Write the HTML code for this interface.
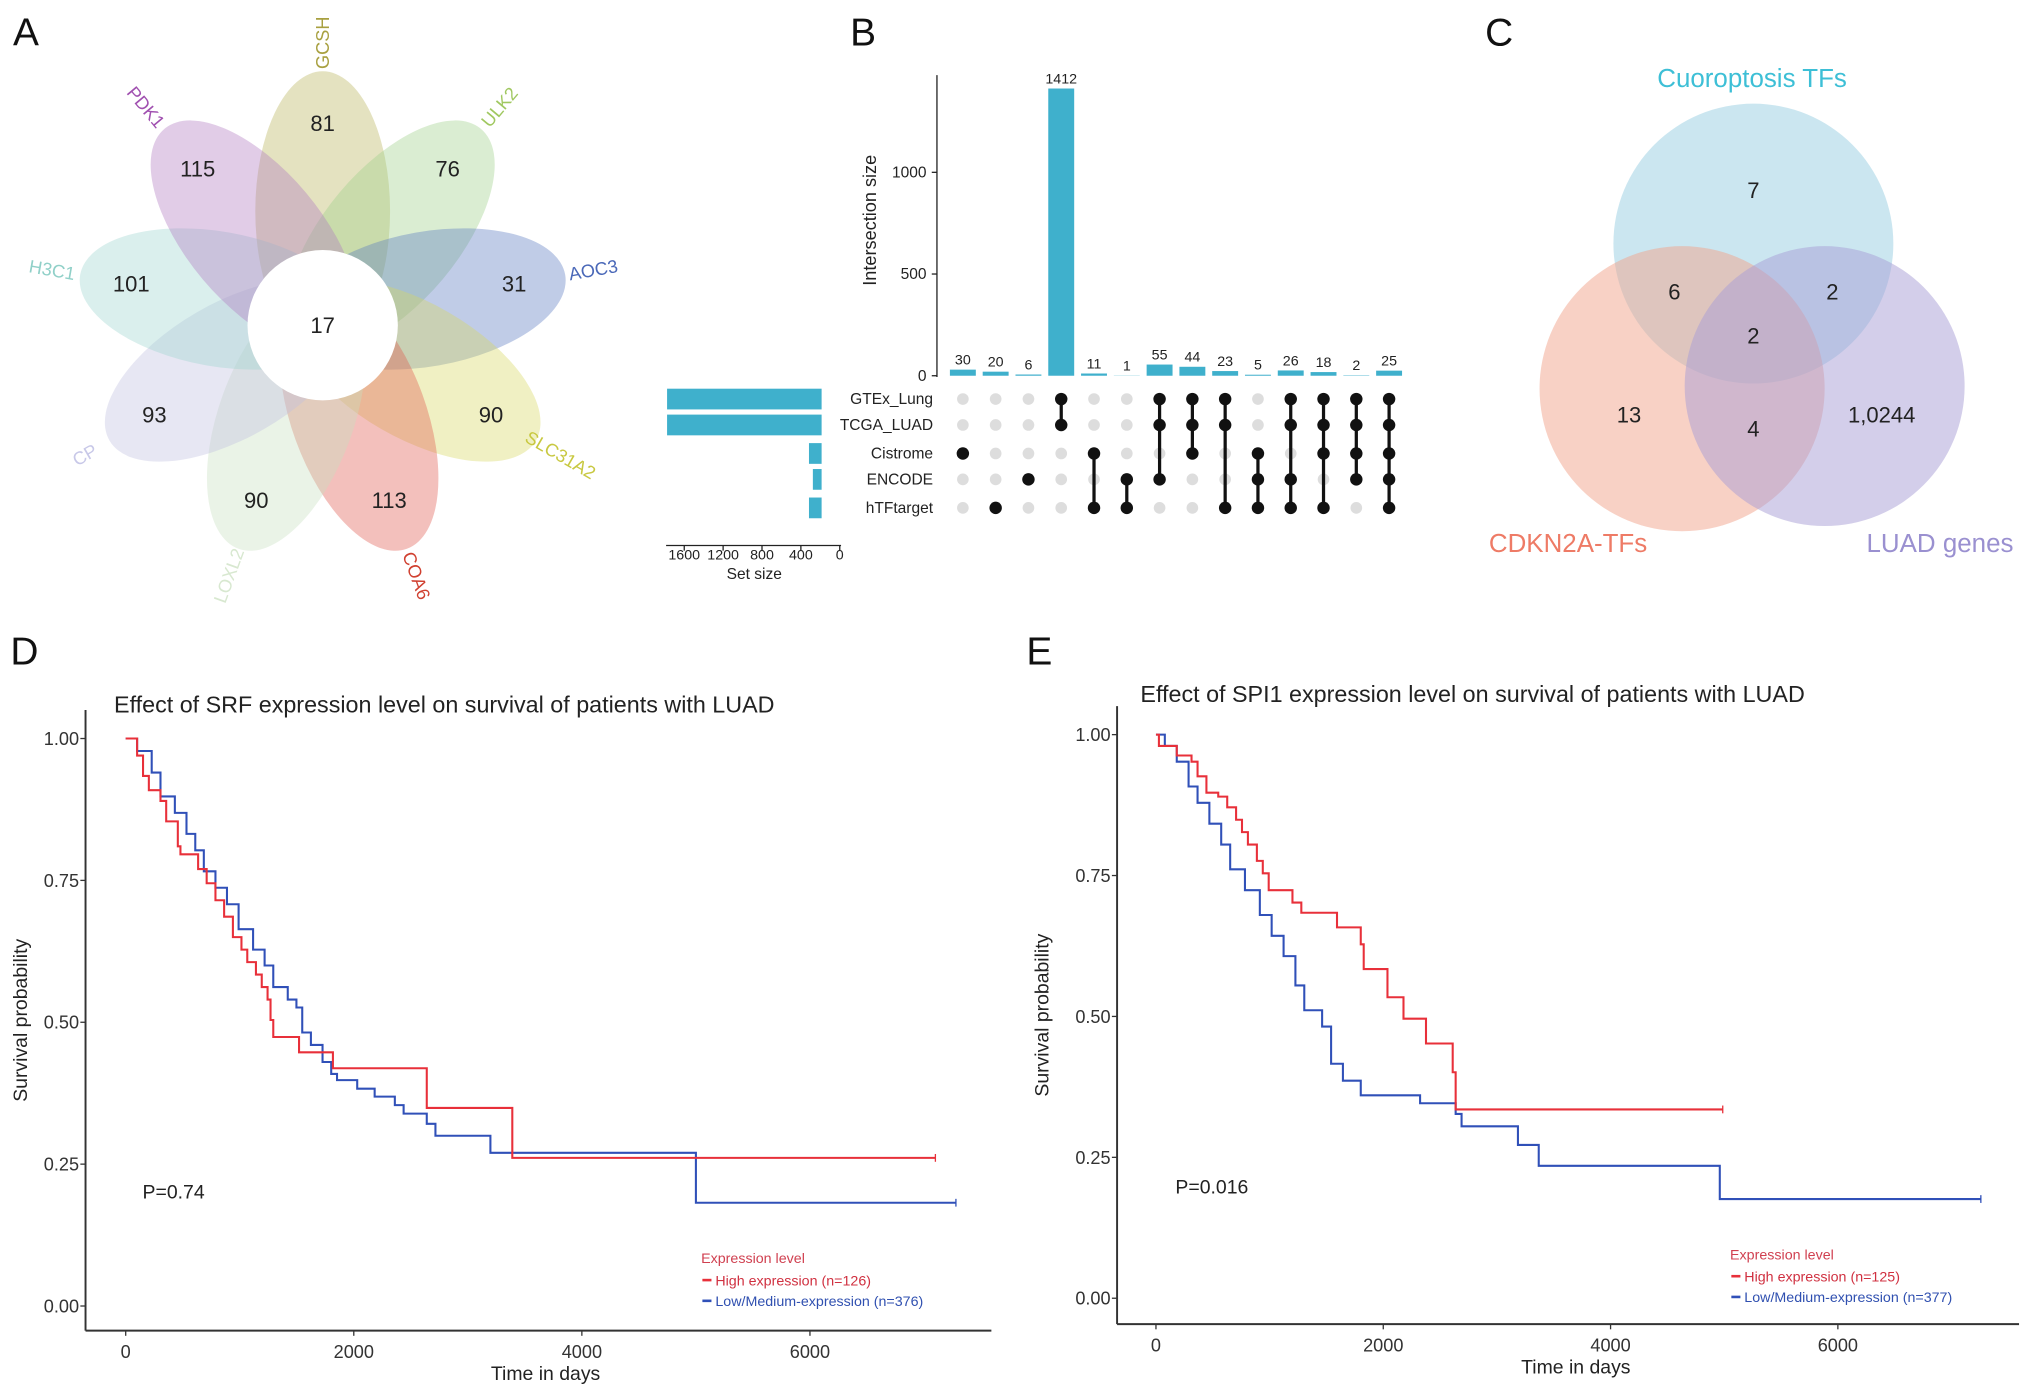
<!DOCTYPE html>
<html><head><meta charset="utf-8"><style>
html,body{margin:0;padding:0;background:#fff}
svg{display:block;font-family:"Liberation Sans",Arial,sans-serif}
</style></head><body>
<svg id="fig" width="2032" height="1398" viewBox="0 0 1568 1079" preserveAspectRatio="none" xmlns="http://www.w3.org/2000/svg">
<rect width="1568" height="1079" fill="#fff"/>
<g font-size="30" fill="#111">
<text x="10" y="35">A</text>
<text x="656" y="35">B</text>
<text x="1146" y="35">C</text>
<text x="8" y="513">D</text>
<text x="792" y="513">E</text>
</g>
<g id="flower"></g>
<g id="upset"></g>
<g id="venn">
<circle cx="1353" cy="188" r="108" fill="#a9d6e6" fill-opacity="0.6"/>
<circle cx="1298" cy="300" r="110" fill="#f2a48c" fill-opacity="0.5"/>
<circle cx="1408" cy="298" r="108" fill="#a89ed6" fill-opacity="0.5"/>
<g font-size="17" fill="#222" text-anchor="middle">
<text x="1353" y="153">7</text><text x="1292" y="231">6</text><text x="1414" y="231">2</text>
<text x="1353" y="265">2</text><text x="1257" y="326">13</text><text x="1353" y="337">4</text><text x="1452" y="326">1,0244</text>
</g>
<text x="1352" y="67" font-size="20" fill="#3dbfd6" text-anchor="middle">Cuoroptosis TFs</text>
<text x="1210" y="426" font-size="20" fill="#ee7b66" text-anchor="middle">CDKN2A-TFs</text>
<text x="1497" y="426" font-size="20" fill="#9a90d0" text-anchor="middle">LUAD genes</text>
</g>
<g id="kmD"></g>
<g id="kmE"></g>
</svg>
<script>
const NS="http://www.w3.org/2000/svg";
function mk(parent,tag,attrs,text){const e=document.createElementNS(NS,tag);for(const k in attrs)e.setAttribute(k,attrs[k]);if(text!==undefined)e.textContent=text;parent.appendChild(e);return e;}

// ---------- Flower (A) ----------
const petalNames=["GCSH","ULK2","AOC3","SLC31A2","COA6","LOXL2","CP","H3C1","PDK1"];
const petalValues=[81,76,31,90,113,90,93,101,115];
const petalColors=["#b8b25a","#9ed08a","#5a78c0","#d8d860","#e05a50","#c8e0c0","#c0c0e0","#9ed6d0","#b07ac0"];
const labelColors=["#a8a040","#a0c860","#4a68b8","#c8c840","#d04030","#d8e8d0","#c8c8e8","#90d0c8","#a050b0"];
const coreValue=17;
const flower=document.getElementById('flower');
const fcx=249,fcy=245;
petalNames.forEach((n,i)=>{
  const ang=i*40;
  const g=mk(flower,'g',{transform:`rotate(${ang} ${fcx} ${fcy})`});
  const el=mk(g,'ellipse',{cx:fcx,cy:fcy-82,rx:52,ry:108,fill:petalColors[i],'fill-opacity':0.38});
  
  
  const rad=(ang-90)*Math.PI/180;
  const nx=fcx+150*Math.cos(rad), ny=fcy+150*Math.sin(rad);
  const t=mk(flower,'text',{x:nx,y:ny+6,'font-size':17,'text-anchor':'middle',fill:'#222'},petalValues[i]);
  
  
  const lx=fcx+212*Math.cos(rad), ly=fcy+212*Math.sin(rad);
  const rot=ang<=180?ang-90:ang-270;
  const l=mk(flower,'text',{x:lx,y:ly+5,'font-size':14,'text-anchor':'middle',fill:labelColors[i],transform:`rotate(${rot} ${lx} ${ly})`},n);
  
  
});
const core=mk(flower,'circle',{cx:fcx,cy:fcy+6,r:58,fill:'#fff'});


mk(flower,'text',{x:fcx,y:fcy+12,'font-size':17,'text-anchor':'middle',fill:'#222'},coreValue);

// ---------- UpSet (B) ----------
const intersectionSizes=[30,20,6,1412,11,1,55,44,23,5,26,18,2,25];
const setNames=["GTEx_Lung","TCGA_LUAD","Cistrome","ENCODE","hTFtarget"];
const setSizes=[1590,1590,130,90,130];
const memberships=[[2],[4],[3],[0,1],[2,4],[3,4],[0,1,3],[0,1,2],[0,1,4],[2,3,4],[0,1,3,4],[0,1,2,4],[0,1,2,3],[0,1,2,3,4]];
const yTicksB=[0,500,1000];
const setTicks=[1600,1200,800,400,0];
const up=document.getElementById('upset');
const yB=v=>290-v*0.157;
const colX=i=>743+i*25.3;
const rowY=[308,328,350,370,392];
mk(up,'line',{x1:723,y1:58,x2:723,y2:291,stroke:'#222','stroke-width':1});
yTicksB.forEach(t=>{mk(up,'line',{x1:719,x2:723,y1:yB(t),y2:yB(t),stroke:'#222'});mk(up,'text',{x:715,y:yB(t)+4,'font-size':12,'text-anchor':'end',fill:'#222'},t);});
mk(up,'text',{x:676,y:170,'font-size':14,'text-anchor':'middle',fill:'#222',transform:'rotate(-90 676 170)'},'Intersection size');
intersectionSizes.forEach((v,i)=>{
  const b=mk(up,'rect',{x:colX(i)-10,y:yB(v),width:20,height:290-yB(v),fill:'#3fb0cc'});
  
  
  mk(up,'text',{x:colX(i),y:yB(v)-4,'font-size':11,'text-anchor':'middle',fill:'#222'},v);
});
setNames.forEach((n,r)=>{
  mk(up,'text',{x:720,y:rowY[r]+4,'font-size':12,'text-anchor':'end',fill:'#222'},n);
  const w=setSizes[r]*0.075;
  const b=mk(up,'rect',{x:634-w,y:rowY[r]-8,width:w,height:16,fill:'#3fb0cc'});
  
  
  intersectionSizes.forEach((v,i)=>{mk(up,'circle',{cx:colX(i),cy:rowY[r],r:4.5,fill:'#ddd'});});
});
memberships.forEach((m,i)=>{
  if(m.length>1) mk(up,'line',{x1:colX(i),x2:colX(i),y1:rowY[m[0]],y2:rowY[m[m.length-1]],stroke:'#111','stroke-width':2.5});
  m.forEach(r=>mk(up,'circle',{cx:colX(i),cy:rowY[r],r:4.8,fill:'#111'}));
});
mk(up,'line',{x1:514,x2:649,y1:421,y2:421,stroke:'#222'});
setTicks.forEach(t=>{const x=648-t*0.075;mk(up,'line',{x1:x,x2:x,y1:421,y2:425,stroke:'#222'});mk(up,'text',{x:x,y:432,'font-size':11,'text-anchor':'middle',fill:'#222'},t);});
mk(up,'text',{x:582,y:447,'font-size':12,'text-anchor':'middle',fill:'#222'},'Set size');

// ---------- KM plots ----------
const srfHighT=[0,100,152,203,305,355,457,480,635,710,787,863,940,1015,1066,1142,1193,1244,1270,1294,1520,1817,2640,3390,7100];
const srfHighS=[1,0.97,0.934,0.909,0.89,0.854,0.81,0.796,0.77,0.745,0.715,0.686,0.65,0.628,0.606,0.584,0.562,0.54,0.504,0.474,0.447,0.419,0.349,0.261,0.261];
const srfLowT=[0,100,228,305,431,533,610,685,787,888,990,1117,1218,1294,1421,1497,1548,1624,1726,1802,1853,2030,2183,2360,2437,2640,2716,3198,5000,7280];
const srfLowS=[1,0.978,0.94,0.898,0.869,0.832,0.803,0.766,0.737,0.708,0.664,0.628,0.6,0.562,0.54,0.526,0.482,0.46,0.43,0.409,0.398,0.383,0.369,0.354,0.339,0.321,0.3,0.27,0.182,0.182];
const spiHighT=[0,26,183,313,366,444,548,627,705,757,809,888,940,992,1201,1279,1593,1802,1828,2037,2178,2376,2611,2637,4987];
const spiHighS=[1,0.98,0.963,0.952,0.926,0.897,0.89,0.871,0.849,0.827,0.805,0.776,0.754,0.724,0.702,0.684,0.658,0.628,0.584,0.534,0.496,0.452,0.401,0.335,0.335];
const spiLowT=[0,78,183,287,366,470,574,653,783,914,1018,1123,1227,1305,1462,1541,1645,1802,2324,2637,2689,3185,3368,4961,7258];
const spiLowS=[1,0.98,0.952,0.908,0.879,0.842,0.805,0.761,0.724,0.68,0.643,0.607,0.555,0.511,0.482,0.416,0.386,0.36,0.346,0.327,0.305,0.272,0.235,0.176,0.176];
const xTicksKM=[0,2000,4000,6000];
const yTicksKM=[0,0.25,0.5,0.75,1];

function km(gid,o){
  const g=document.getElementById(gid);
  const X=t=>o.x0+t*o.kx, Y=s=>o.y0-s*o.ky;
  mk(g,'text',{x:o.titleX,y:o.titleY,'font-size':18,fill:'#222'},o.title);
  mk(g,'line',{x1:o.ax,x2:o.ax,y1:o.top,y2:o.axY,stroke:'#333','stroke-width':1.5});
  mk(g,'line',{x1:o.ax,x2:o.right,y1:o.axY,y2:o.axY,stroke:'#333','stroke-width':1.5});
  yTicksKM.forEach(t=>{mk(g,'line',{x1:o.ax-4,x2:o.ax,y1:Y(t),y2:Y(t),stroke:'#333'});mk(g,'text',{x:o.ax-5,y:Y(t)+5,'font-size':14,'text-anchor':'end',fill:'#333'},t.toFixed(2));});
  xTicksKM.forEach(t=>{mk(g,'line',{x1:X(t),x2:X(t),y1:o.axY,y2:o.axY+4,stroke:'#333'});mk(g,'text',{x:X(t),y:o.axY+21,'font-size':14,'text-anchor':'middle',fill:'#333'},t);});
  mk(g,'text',{x:o.xlabX,y:o.axY+38,'font-size':15,'text-anchor':'middle',fill:'#222'},'Time in days');
  const yl=(o.top+o.axY)/2;
  mk(g,'text',{x:o.ylabX,y:yl,'font-size':15,'text-anchor':'middle',fill:'#222',transform:`rotate(-90 ${o.ylabX} ${yl})`},'Survival probability');
  [[o.lowT,o.lowS,'#3050b8','low'],[o.highT,o.highS,'#e8303a','high']].forEach(([T,S,c,nm])=>{
    let d=`M${X(T[0])},${Y(S[0])}`;
    for(let i=1;i<T.length;i++){d+=`H${X(T[i])}V${Y(S[i])}`;}
    const p=mk(g,'path',{d:d,fill:'none',stroke:c,'stroke-width':1.6});
    
    
    const last=T.length-1;
    mk(g,'line',{x1:X(T[last]),x2:X(T[last]),y1:Y(S[last])-3,y2:Y(S[last])+3,stroke:c});
  });
  mk(g,'text',{x:o.pX,y:o.pY,'font-size':15,fill:'#222'},o.p);
  mk(g,'text',{x:o.legX,y:o.legY,'font-size':11,fill:'#d04050'},'Expression level');
  mk(g,'text',{x:o.legX+11,y:o.legY+17,'font-size':11,fill:'#d03040'},'High expression ('+o.nH+')');
  mk(g,'text',{x:o.legX+11,y:o.legY+33,'font-size':11,fill:'#3050b0'},'Low/Medium-expression ('+o.nL+')');
  mk(g,'line',{x1:o.legX+1,x2:o.legX+8,y1:o.legY+13,y2:o.legY+13,stroke:'#e8303a','stroke-width':2});
  mk(g,'line',{x1:o.legX+1,x2:o.legX+8,y1:o.legY+29,y2:o.legY+29,stroke:'#3050b8','stroke-width':2});
}
km('kmD',{x0:97,kx:0.088,y0:1008,ky:438,ax:66,top:548,axY:1027,right:765,title:'Effect of SRF expression level on survival of patients with LUAD',titleX:88,titleY:550,xlabX:421,ylabX:21,highT:srfHighT,highS:srfHighS,lowT:srfLowT,lowS:srfLowS,p:'P=0.74',pX:110,pY:925,legX:541,legY:975,nH:'n=126',nL:'n=376'});
km('kmE',{x0:892,kx:0.0877,y0:1002,ky:435,ax:862,top:545,axY:1022,right:1558,title:'Effect of SPI1 expression level on survival of patients with LUAD',titleX:880,titleY:542,xlabX:1216,ylabX:809,highT:spiHighT,highS:spiHighS,lowT:spiLowT,lowS:spiLowS,p:'P=0.016',pX:907,pY:921,legX:1335,legY:972,nH:'n=125',nL:'n=377'});
</script>
</body></html>
